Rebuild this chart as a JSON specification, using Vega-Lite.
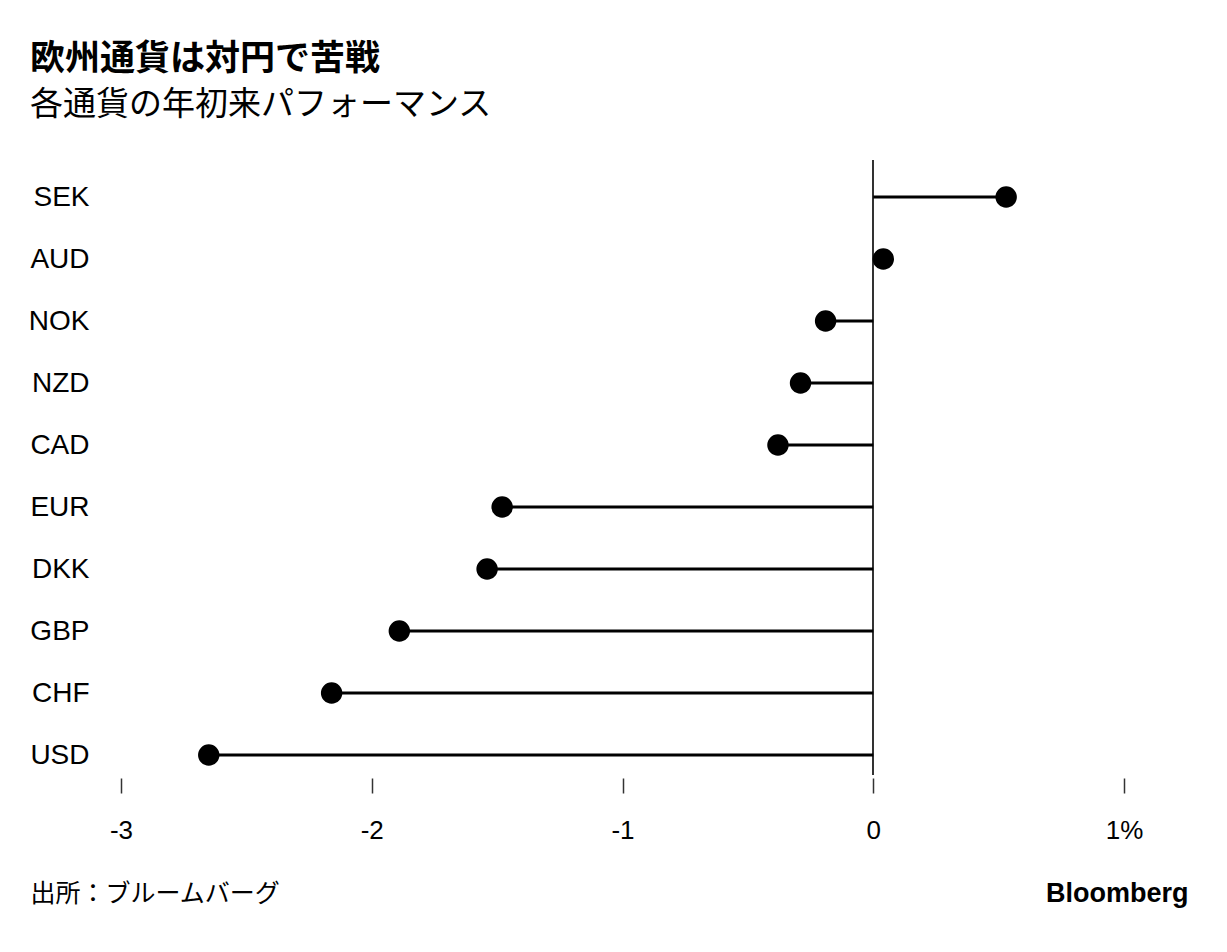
{
  "$schema": "https://vega.github.io/schema/vega-lite/v6.json",
  "autosize": {"type": "none"},
  "width": 1003,
  "height": 615,
  "padding": {"left": 121, "top": 160, "right": 103, "bottom": 177},
  "background": "white",
  "view": {"stroke": null},
  "title": {
    "text": "欧州通貨は対円で苦戦",
    "subtitle": "各通貨の年初来パフォーマンス",
    "anchor": "start",
    "frame": "group",
    "dx": -91,
    "offset": 37,
    "font": "Noto Sans CJK JP",
    "fontSize": 35,
    "fontWeight": "bold",
    "color": "#000000",
    "subtitleFont": "Noto Sans CJK JP",
    "subtitleFontSize": 33,
    "subtitleColor": "#000000",
    "subtitlePadding": 12
  },
  "data": {
    "values": [
      {"currency": "SEK", "value": 0.53},
      {"currency": "AUD", "value": 0.04},
      {"currency": "NOK", "value": -0.19},
      {"currency": "NZD", "value": -0.29},
      {"currency": "CAD", "value": -0.38},
      {"currency": "EUR", "value": -1.48},
      {"currency": "DKK", "value": -1.54},
      {"currency": "GBP", "value": -1.89},
      {"currency": "CHF", "value": -2.16},
      {"currency": "USD", "value": -2.65}
    ]
  },
  "encoding": {
    "y": {
      "field": "currency",
      "type": "nominal",
      "sort": null,
      "scale": {"type": "point", "range": [37, 595], "padding": 0},
      "axis": {
        "title": "出所：ブルームバーグ",
        "titleAngle": 0,
        "titleAlign": "left",
        "titleBaseline": "middle",
        "titleX": -91,
        "titleY": 733,
        "titleFont": "Noto Sans CJK JP",
        "titleFontSize": 25,
        "titleFontWeight": "normal",
        "titleColor": "#000000",
        "domain": false,
        "ticks": false,
        "labelPadding": 32,
        "labelFont": "Liberation Sans",
        "labelFontSize": 28,
        "labelColor": "#000000",
        "grid": false
      }
    }
  },
  "layer": [
    {
      "mark": {"type": "rule", "color": "#333333", "strokeWidth": 1.5},
      "encoding": {"x": {"datum": 0, "type": "quantitative"}, "y": null}
    },
    {
      "mark": {"type": "rule", "color": "#000000", "strokeWidth": 3},
      "encoding": {
        "x": {
          "field": "value",
          "type": "quantitative",
          "scale": {"domain": [-3, 1], "nice": false, "zero": false},
          "axis": {
            "values": [-3, -2, -1, 0, 1],
            "labelExpr": "datum.value == 1 ? '1%' : '' + datum.value",
            "domain": false,
            "grid": false,
            "offset": 3,
            "tickSize": 15,
            "tickColor": "#333333",
            "tickWidth": 1.5,
            "labelPadding": 24,
            "labelFont": "Liberation Sans",
            "labelFontSize": 26,
            "labelColor": "#000000",
            "labelFlush": false,
            "title": "Bloomberg",
            "titleAlign": "right",
            "titleBaseline": "middle",
            "titleX": 1067,
            "titleY": 115,
            "titleFont": "Liberation Sans",
            "titleFontSize": 27,
            "titleFontWeight": "bold",
            "titleColor": "#000000"
          }
        },
        "x2": {"datum": 0}
      }
    },
    {
      "mark": {"type": "point", "filled": true, "color": "#000000", "size": 460, "opacity": 1},
      "encoding": {"x": {"field": "value", "type": "quantitative"}}
    }
  ]
}
